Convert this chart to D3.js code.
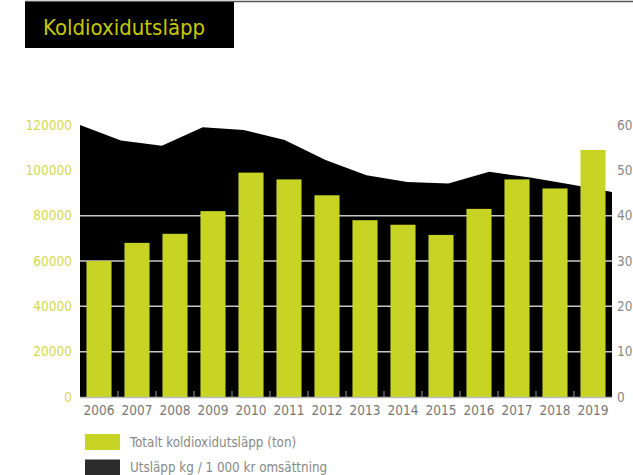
<!DOCTYPE html>
<html>
<head>
<meta charset="utf-8">
<script src="https://cdn.jsdelivr.net/npm/d3@7"></script>
<style>
  body { margin: 0; background: #fff; }
  svg { display: block; font-family: "DejaVu Sans Condensed", "Liberation Sans Narrow", sans-serif; }
</style>
</head>
<body>
<svg class="chart" width="633" height="475"></svg>
<script>
var years = ["2006", "2007", "2008", "2009", "2010", "2011", "2012", "2013", "2014", "2015", "2016", "2017", "2018", "2019"];
// Totalt koldioxidutsläpp (ton)
var totals = [60000, 68000, 72000, 82000, 99000, 96000, 89000, 78000, 76000, 71500, 83000, 96000, 92000, 109000];
// Utsläpp kg / 1 000 kr omsättning
var perKr = [60, 56.6, 55.4, 59.5, 58.9, 56.7, 52.3, 48.9, 47.4, 47.1, 49.7, 48.4, 46.9, 45.2];
var leftTicks = [0, 20000, 40000, 60000, 80000, 100000, 120000];
var rightTicks = [0, 10, 20, 30, 40, 50, 60];
var gridTicks = [20000, 40000, 60000, 80000];
var legendLabels = ["Totalt koldioxidutsläpp (ton)", "Utsläpp kg / 1 000 kr omsättning"];

var green = "#c8d424";
var margin = {top: 125, left: 80, right: 612, bottom: 397};

var svg = d3.select(".chart");

// title
svg.append("line")
    .attr("x1", 25).attr("x2", 633).attr("y1", 1.5).attr("y2", 1.5)
    .attr("stroke", "#555").attr("stroke-width", 1.5);
svg.append("rect")
    .attr("x", 25).attr("y", 2).attr("width", 209).attr("height", 46)
    .attr("fill", "#000");
svg.append("text")
    .attr("x", 43).attr("y", 35)
    .attr("fill", "#c8c800")
    .attr("font-size", 22)
    .text("Koldioxidutsläpp");

var x = d3.scaleBand()
    .domain(years)
    .range([margin.left, margin.right])
    .paddingInner(0.34)
    .paddingOuter(0.17);

var xp = d3.scalePoint()
    .domain(years)
    .range([margin.left, margin.right]);

var yL = d3.scaleLinear().domain([0, 120000]).range([margin.bottom, margin.top]);
var yR = d3.scaleLinear().domain([0, 60]).range([margin.bottom, margin.top]);

// area (right axis)
var area = d3.area()
    .x(function(d, i) { return xp(years[i]); })
    .y0(yR(0))
    .y1(function(d) { return yR(d); });

svg.append("path")
    .datum(perKr)
    .attr("d", area)
    .attr("fill", "#000");

// grid
svg.append("g").selectAll("line")
    .data(gridTicks)
  .enter().append("line")
    .attr("x1", margin.left).attr("x2", margin.right)
    .attr("y1", function(d) { return yL(d); })
    .attr("y2", function(d) { return yL(d); })
    .attr("stroke", "#c8c8c8").attr("stroke-width", 1.5);

// small ticks between categories
var step = x.step();
svg.append("g").selectAll("line")
    .data(years.slice(1))
  .enter().append("line")
    .attr("x1", function(d) { return x(d) - step * x.paddingInner() / 2; })
    .attr("x2", function(d) { return x(d) - step * x.paddingInner() / 2; })
    .attr("y1", margin.bottom - 6).attr("y2", margin.bottom)
    .attr("stroke", "#999").attr("stroke-width", 1);

// bars
svg.append("g").selectAll("rect")
    .data(totals)
  .enter().append("rect")
    .attr("x", function(d, i) { return x(years[i]); })
    .attr("y", function(d) { return yL(d); })
    .attr("width", x.bandwidth())
    .attr("height", function(d) { return yL(0) - yL(d); })
    .attr("fill", green);

// baseline
svg.append("line")
    .attr("x1", margin.left).attr("x2", margin.right)
    .attr("y1", margin.bottom + 0.5).attr("y2", margin.bottom + 0.5)
    .attr("stroke", "#bbb").attr("stroke-width", 1.5);

// left axis labels
svg.append("g").selectAll("text")
    .data(leftTicks)
  .enter().append("text")
    .attr("x", 72)
    .attr("y", function(d) { return yL(d); })
    .attr("dy", "0.35em")
    .attr("text-anchor", "end")
    .attr("font-size", 13.5)
    .attr("fill", "#d2d94f")
    .text(function(d) { return d; });

// right axis labels
svg.append("g").selectAll("text")
    .data(rightTicks)
  .enter().append("text")
    .attr("x", 617)
    .attr("y", function(d) { return yR(d); })
    .attr("dy", "0.35em")
    .attr("font-size", 13.5)
    .attr("fill", "#888")
    .text(function(d) { return d; });

// x labels
svg.append("g").selectAll("text")
    .data(years)
  .enter().append("text")
    .attr("x", function(d) { return x(d) + x.bandwidth() / 2; })
    .attr("y", 414.5)
    .attr("text-anchor", "middle")
    .attr("font-size", 13.5)
    .attr("fill", "#777")
    .text(function(d) { return d; });

// legend
var legend = svg.append("g").selectAll("g")
    .data(legendLabels)
  .enter().append("g")
    .attr("transform", function(d, i) { return "translate(85," + (434 + i * 25.5) + ")"; });

legend.append("rect")
    .attr("width", 35).attr("height", 16)
    .attr("fill", function(d, i) { return i == 0 ? green : "#2b2b2b"; });

legend.append("text")
    .attr("x", 45).attr("y", 8)
    .attr("dy", "0.35em")
    .attr("font-size", 13.3)
    .attr("fill", "#888")
    .text(function(d) { return d; });
</script>
</body>
</html>
